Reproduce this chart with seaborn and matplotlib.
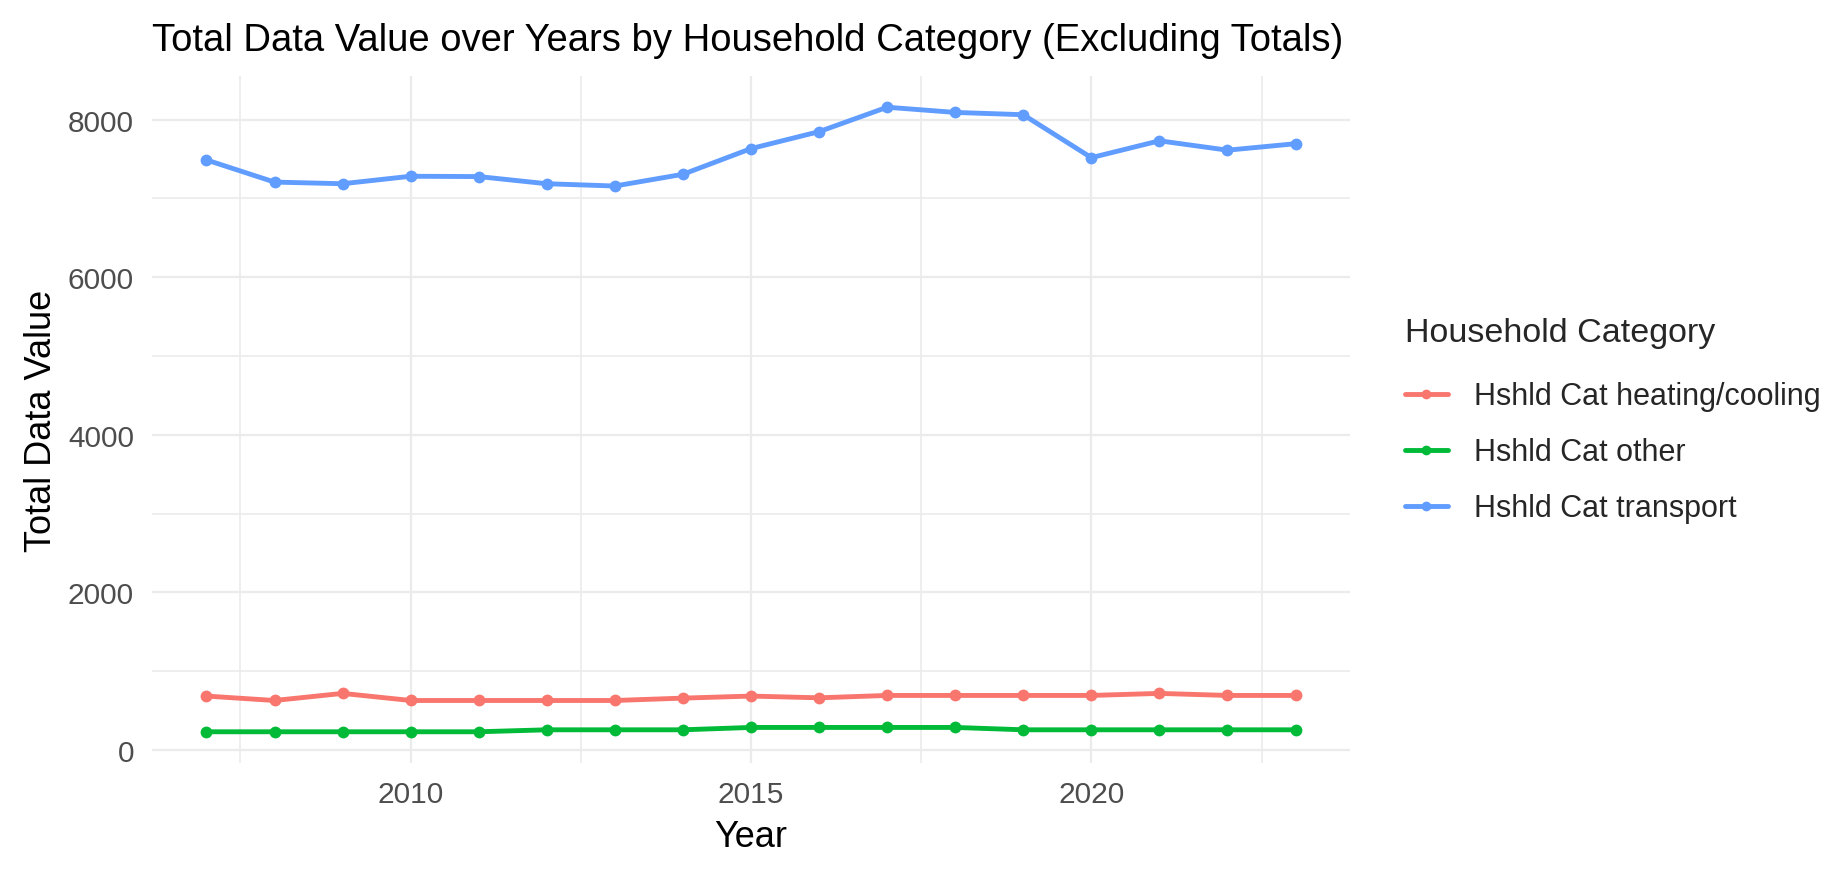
import matplotlib
matplotlib.use("Agg")
import matplotlib.pyplot as plt
import matplotlib.lines as mlines
import seaborn as sns
import pandas as pd

years = list(range(2007, 2024))
heating_cooling = [684, 628, 718, 628, 628, 628, 628, 658, 684, 662, 692, 692, 692, 692, 718, 692, 692]
other = [231, 231, 231, 231, 231, 256, 256, 256, 286, 286, 286, 286, 256, 256, 256, 256, 256]
transport = [7488, 7207, 7186, 7281, 7277, 7186, 7157, 7306, 7632, 7847, 8157, 8091, 8062, 7517, 7731, 7612, 7694]
categories = ["Hshld Cat heating/cooling", "Hshld Cat other", "Hshld Cat transport"]
colors = ["#F8766D", "#00BA38", "#619CFF"]
x_ticks = [2010, 2015, 2020]
y_ticks = [0, 2000, 4000, 6000, 8000]

df = pd.DataFrame({
    "Year": years * 3,
    "Value": heating_cooling + other + transport,
    "Category": [categories[0]] * len(years) + [categories[1]] * len(years) + [categories[2]] * len(years),
})

sns.set_theme(style="white")
plt.rcParams["font.family"] = ["Liberation Sans", "DejaVu Sans"]

fig = plt.figure(figsize=(18.33, 8.70), dpi=100)
ax = fig.add_axes([152 / 1833, 1 - 764 / 870, (1350 - 152) / 1833, (764 - 77) / 870])

palette = dict(zip(categories, colors))
sns.lineplot(data=df, x="Year", y="Value", hue="Category", palette=palette,
             marker="o", markersize=8.5, markeredgewidth=0, linewidth=3.5,
             ax=ax, legend=False, zorder=3)

# ggplot-like expansion
xmin, xmax = min(years), max(years)
ymin, ymax = df["Value"].min(), df["Value"].max()
ax.set_xlim(xmin - 0.05 * (xmax - xmin), xmax + 0.05 * (xmax - xmin))
ax.set_ylim(ymin - 0.05 * (ymax - ymin), ymax + 0.05 * (ymax - ymin))

ax.set_xticks(x_ticks)
ax.set_yticks(y_ticks)
ax.set_xticks([2007.5, 2012.5, 2017.5, 2022.5], minor=True)
ax.set_yticks([1000, 3000, 5000, 7000], minor=True)
ax.grid(True, which="major", color="#EBEBEB", linewidth=1.6, zorder=0)
ax.grid(True, which="minor", color="#EBEBEB", linewidth=1.2, zorder=0)
for s in ax.spines.values():
    s.set_visible(False)
ax.tick_params(which="both", length=0)
ax.tick_params(axis="x", labelsize=21.5, labelcolor="#4D4D4D", pad=12)
ax.tick_params(axis="y", labelsize=21.5, labelcolor="#4D4D4D", pad=13)

ax.set_xlabel("Year", fontsize=26, color="black", labelpad=8)
ax.set_ylabel("Total Data Value", fontsize=26, color="black", labelpad=6)
ax.set_title("Total Data Value over Years by Household Category (Excluding Totals)",
             loc="left", fontsize=27.5, color="black", pad=19)

handles = [mlines.Line2D([], [], color=c, linewidth=3.5, marker="o", markersize=7,
                         markeredgewidth=0) for c in colors]
leg = fig.legend(handles, categories, title="Household Category",
                 loc="upper left", bbox_to_anchor=(1405 / 1833, 1 - 318 / 870),
                 frameon=False, fontsize=22, title_fontsize=24.5,
                 borderpad=0, borderaxespad=0,
                 handlelength=1.4, handletextpad=0.85, labelspacing=0.85)
leg._legend_box.align = "left"
leg._legend_box.sep = 24

fig.savefig("out.png", dpi=100)
